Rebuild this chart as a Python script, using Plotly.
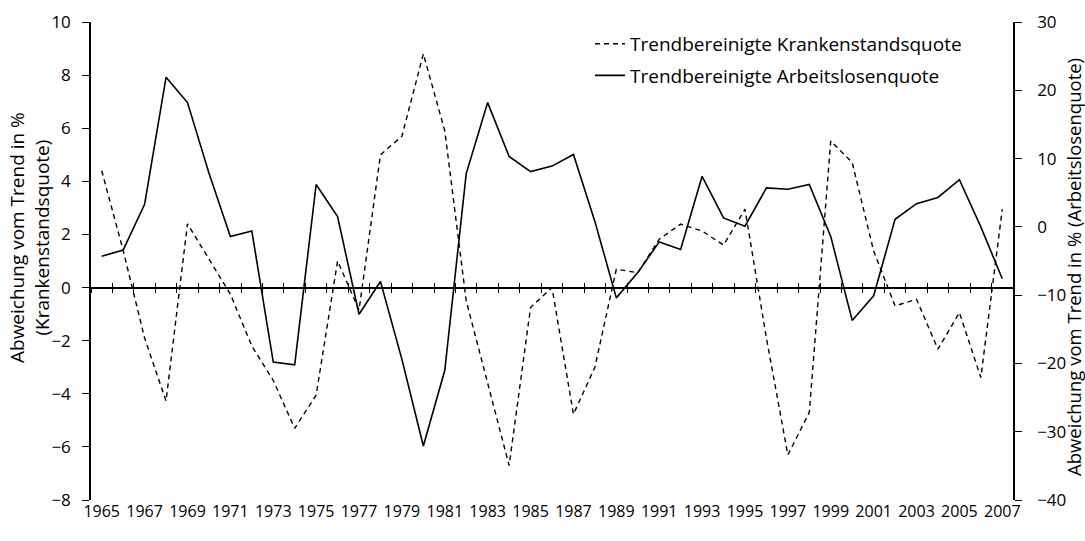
import plotly.graph_objects as go

years = list(range(1965, 2008))
label_years = list(range(1965, 2008, 2))

kranken = [4.4, 1.4, -1.9, -4.27, 2.4, 1.1, -0.25, -2.2, -3.5, -5.3,
           -4.05, 1.0, -0.85, 5.0, 5.7, 8.8, 5.9, -0.5, -3.6, -6.7,
           -0.75, 0.0, -4.77, -3.0, 0.69, 0.56, 1.82, 2.39, 2.13, 1.6,
           2.95, -1.9, -6.3, -4.7, 5.52, 4.71, 1.38, -0.69, -0.44, -2.32,
           -0.94, -3.39, 2.95]

arbeitslos = [-4.3, -3.4, 3.3, 21.9, 18.2, 7.9, -1.4, -0.6, -19.8, -20.2,
              6.2, 1.5, -12.8, -8.0, -19.4, -32.1, -21.0, 7.8, 18.2, 10.3,
              8.1, 8.9, 10.6, 0.8, -10.4, -6.7, -2.2, -3.3, 7.4, 1.3,
              0.1, 5.7, 5.5, 6.2, -1.4, -13.7, -10.1, 1.1, 3.4, 4.3,
              6.9, 0.0, -7.6]

name_k = "Trendbereinigte Krankenstandsquote"
name_a = "Trendbereinigte Arbeitslosenquote"
title_left = "Abweichung vom Trend in %<br>(Krankenstandsquote)"
title_right = "Abweichung vom Trend in % (Arbeitslosenquote)"

FONT = "Open Sans, Noto Sans, sans-serif"
W, H = 1085, 541
ML, MR, MT, MB = 91, 72, 22, 41
PW, PH = W - ML - MR, H - MT - MB

left_range = [-8, 10]
right_range = [-40, 30]
x_range = [years[0] - 0.5, years[-1] + 0.5]
zero_pos = (0 - left_range[0]) / (left_range[1] - left_range[0])

fig = go.Figure()
fig.add_trace(go.Scatter(
    x=years, y=kranken, name=name_k, mode="lines",
    line=dict(color="black", width=1.4, dash="5px,4px"),
    xaxis="x", yaxis="y", legendgroup="k"))
fig.add_trace(go.Scatter(
    x=years, y=arbeitslos, name=name_a, mode="lines",
    line=dict(color="black", width=1.6),
    xaxis="x2", yaxis="y2", legendgroup="a"))
# invisible helper so the third (inside-tick) axis gets drawn
fig.add_trace(go.Scatter(
    x=years, y=kranken, mode="lines", opacity=0, showlegend=False,
    hoverinfo="skip", line=dict(width=0), xaxis="x3", yaxis="y"))

common_x = dict(range=x_range, showgrid=False, zeroline=False, automargin=False)

fig.update_layout(
    width=W, height=H,
    margin=dict(l=ML, r=MR, t=MT, b=MB),
    paper_bgcolor="white", plot_bgcolor="white",
    font=dict(family=FONT, color="black", size=17),
    showlegend=True,
    legend=dict(x=(590 - ML) / PW, y=0.994, xanchor="left", yanchor="top",
                bgcolor="rgba(0,0,0,0)", font=dict(size=19, family=FONT),
                tracegroupgap=4, traceorder="grouped"),
    xaxis=dict(**common_x, tickmode="array", tickvals=label_years,
               ticktext=[str(y) for y in label_years], ticks="",
               showline=False, tickangle=0, tickfont=dict(size=16)),
    xaxis2=dict(**common_x, overlaying="x", anchor="free", position=zero_pos,
                showline=True, linecolor="black", linewidth=1.5,
                tickmode="linear", tick0=x_range[0], dtick=1,
                ticks="outside", ticklen=5, tickwidth=1.2, tickcolor="black",
                showticklabels=False),
    xaxis3=dict(**common_x, overlaying="x", anchor="free", position=zero_pos,
                showline=False,
                tickmode="linear", tick0=x_range[0], dtick=1,
                ticks="inside", ticklen=5, tickwidth=1.2, tickcolor="black",
                showticklabels=False),
    yaxis=dict(range=left_range, dtick=2, showgrid=False, zeroline=False,
               showline=True, linecolor="black", linewidth=1.5,
               ticks="outside", ticklen=7, tickwidth=1.2, tickcolor="black",
               ticklabelstandoff=8, automargin=False,
               tickfont=dict(size=17)),
    yaxis2=dict(range=right_range, dtick=10, overlaying="y", side="right",
                anchor="x", showgrid=False, zeroline=False,
                showline=True, linecolor="black", linewidth=1.5,
                ticks="outside", ticklen=7, tickwidth=1.2, tickcolor="black",
                ticklabelstandoff=12, automargin=False,
                tickfont=dict(size=17)),
    annotations=[
        dict(text=title_left, xref="paper", yref="paper",
             x=-(ML - 30) / PW, y=(H - MB - 238) / PH,
             xanchor="center", yanchor="middle", textangle=-90,
             showarrow=False, font=dict(size=19, family=FONT)),
        dict(text=title_right, xref="paper", yref="paper",
             x=1 + (1073 - (W - MR)) / PW, y=(H - MB - 267) / PH,
             xanchor="center", yanchor="middle", textangle=-90,
             showarrow=False, font=dict(size=18.5, family=FONT)),
    ],
)

fig.write_html("out.html", config={"displayModeBar": False},
               post_script="document.body.style.margin='0px';")
